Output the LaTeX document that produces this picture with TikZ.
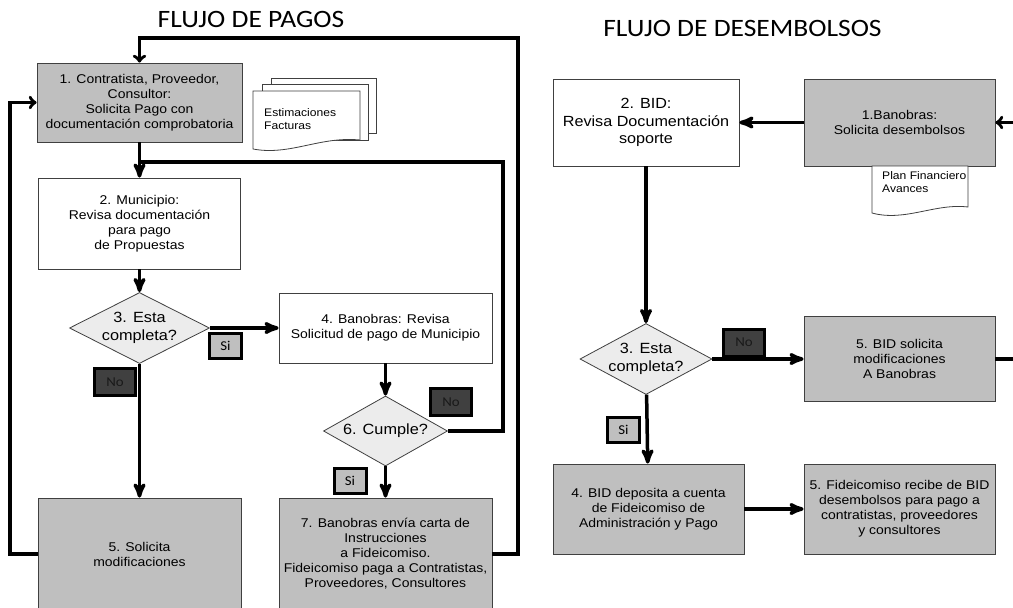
\documentclass[tikz,border=0pt]{standalone}
\usepackage{fontspec}
\setmainfont{Liberation Sans}[FakeStretch=1.1]
\newfontfamily\titfont{Carlito}[FakeStretch=1.1]
\usetikzlibrary{arrows,shapes.geometric}
\definecolor{grisC}{HTML}{BFBFBF}
\definecolor{grisR}{HTML}{ECECEC}
\definecolor{grisN}{HTML}{404040}
\tikzset{
  caja/.style = {rectangle, draw=black!75, line width=0.8pt, align=center,
    inner sep=2pt, font=\fontsize{12.7}{15}\selectfont},
  caja_b/.style = {caja, fill=white},% caja blanca
  caja_g/.style = {caja, fill=grisC},% caja gris
  rombo/.style = {diamond, draw=black!75, line width=0.8pt, fill=grisR,
    inner sep=0pt},% decision
  rombo_txt/.style = {align=center, inner sep=0pt,
    font=\fontsize{14.8}{17.5}\selectfont},
  etq/.style = {rectangle, draw=black, line width=3pt, inner sep=0pt,
    font=\titfont\fontsize{13.5}{14}\selectfont},
  etq_si/.style = {etq, fill=grisC, minimum width=32pt, minimum height=25pt},% etiqueta si
  etq_no/.style = {etq, fill=grisN, text=black!90, minimum width=41pt,
    minimum height=27pt},% etiqueta no
  linea/.style = {line width=3.5pt},
  flecha/.style = {linea, ->},
  vuelta/.style = {linea, ->, >=to},% regreso
  titulo/.style = {font=\titfont\fontsize{25}{30}\selectfont, inner sep=0pt},
  hoja/.style = {draw=black!75, line width=0.8pt, fill=white},
  hoja_txt/.style = {align=left, inner sep=0pt, font=\fontsize{11}{13}\selectfont}
}
\begin{document}
\begin{tikzpicture}[x=1pt,y=-1pt,>=stealth']
\useasboundingbox (0,0) rectangle (1013,608);
\fill[white] (0,0) rectangle (1013,608);
\clip (0,0) rectangle (1013,608);

\node[titulo] (t1) at (251,19.5) {FLUJO DE PAGOS};
\node[titulo] (t2) at (742.5,28) {FLUJO DE DESEMBOLSOS};

% flujo de pagos
\node[caja_g, minimum width=205pt, minimum height=79pt] (c1) at (139.5,102.5)
  {1. Contratista, Proveedor,\\Consultor:\\Solicita Pago con\\documentación comprobatoria};
\node[caja_b, minimum width=202pt, minimum height=91pt] (c2) at (139.5,223.5)
  {2. Municipio:\\Revisa documentación\\para pago\\de Propuestas};
\node[rombo, minimum width=140pt, minimum height=71pt] (r3) at (139.5,328) {};
\node[rombo_txt] (r3t) at (r3) {3. Esta\\completa?};
\node[caja_b, minimum width=213pt, minimum height=70pt] (c4) at (385.5,328)
  {4. Banobras: Revisa\\Solicitud de pago de Municipio};
\node[rombo, minimum width=124pt, minimum height=70pt] (r6) at (385.5,431) {};
\node[rombo_txt] (r6t) at (r6) {6. Cumple?};
\node[caja_g, minimum width=203pt, minimum height=112pt] (c5) at (139.5,554)
  {5. Solicita\\modificaciones};
\node[caja_g, minimum width=213pt, minimum height=112pt] (c7) at (385.5,554)
  {7. Banobras envía carta de\\Instrucciones\\a Fideicomiso.\\Fideicomiso paga a Contratistas,\\Proveedores, Consultores};

% flujo de desembolsos
\node[caja_b, minimum width=186pt, minimum height=87pt,
  font=\fontsize{14.7}{17.5}\selectfont] (d2) at (646,122.5)
  {2. BID:\\Revisa Documentación\\soporte};
\node[caja_g, minimum width=191pt, minimum height=87pt] (d1) at (899.5,122.5)
  {1.Banobras:\\Solicita desembolsos};
\node[rombo, minimum width=132pt, minimum height=71pt] (dr3) at (646,359) {};
\node[rombo_txt] (dr3t) at (dr3) {3. Esta\\completa?};
\node[caja_g, minimum width=191pt, minimum height=85pt] (d5) at (899.5,359)
  {5. BID solicita\\modificaciones\\A Banobras};
\node[caja_g, minimum width=191pt, minimum height=90pt] (d4) at (648.5,509)
  {4. BID deposita a cuenta\\de Fideicomiso de\\Administración y Pago};
\node[caja_g, minimum width=191pt, minimum height=90pt] (d6) at (899.5,509)
  {5. Fideicomiso recibe de BID\\desembolsos para pago a\\contratistas, proveedores\\y consultores};

% hojas
\draw[hoja] (271,78) rectangle (376,133);
\draw[hoja] (262,84) rectangle (368,140);
\draw[hoja] (253,91) -- (360,91) -- (360,140)
  .. controls (320,136) and (290,156) .. (253,149) -- cycle;
\node[hoja_txt, anchor=north west] (h1) at (264,108) {Estimaciones\\Facturas};
\draw[hoja] (872,166) -- (968,166) -- (968,207)
  .. controls (935,203) and (905,222) .. (872,213) -- cycle;
\node[hoja_txt, anchor=north west] (h2) at (882,171) {Plan Financiero\\Avances};

\coordinate (v1) at (518,38);
\coordinate (v2) at (10,554);
\coordinate (v3) at (503,162);
\coordinate (v4) at (c1.south |- v3);
\coordinate (v5) at (1030,240);

\draw[flecha] (c1) -- (c2);
\draw[flecha] (c2) -- (r3);
\draw[flecha] (r3) -- (c4);
\draw[flecha] (r3) -- (c5);
\draw[flecha] (c4) -- (r6);
\draw[flecha] (r6) -- (c7);
\draw[linea] (r6.east) -| (v3) -- (v4);
\draw[vuelta] (c7.east) -| (v1) -| (c1.north);
\draw[vuelta] (c5.west) -- (v2) |- (c1.west);

\draw[flecha] (d1) -- (d2);
\draw[flecha] (d2) -- (dr3);
\draw[flecha] (dr3) -- (d5);
\draw[flecha] (dr3) -- (d4);
\draw[flecha] (d4) -- (d6);
\draw[vuelta] (d5.east) -| (v5) |- (d1.east);

% etiquetas
\node[etq_si] (si3) at (225.5,346) {Si};
\node[etq_no] (no3) at (115,382) {No};
\node[etq_no] (no6) at (451,402) {No};
\node[etq_si] (si6) at (350,480.5) {Si};
\node[etq_no] (nod) at (744,342.5) {No};
\node[etq_si] (sid) at (623.5,429.5) {Si};
\end{tikzpicture}
\end{document}
